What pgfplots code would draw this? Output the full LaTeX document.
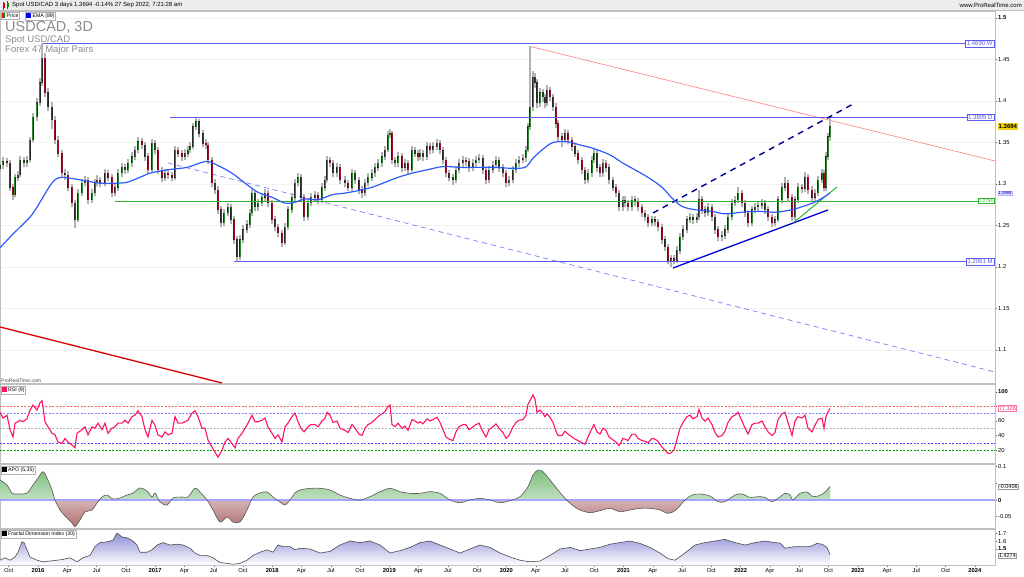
\documentclass[border=0pt]{standalone}
\usepackage{pgfplots}
\pgfplotsset{compat=1.18}
\usepackage{pgfplotstable}
\usepackage{fontspec}
\setmainfont{Liberation Sans}

\definecolor{upg}{HTML}{2F8A2F}
\definecolor{dnr}{HTML}{9A1028}
\definecolor{wick}{HTML}{B2B2B2}
\definecolor{ema}{HTML}{2E5BFF}
\definecolor{lvlc}{rgb}{0.36,0.36,0.95}
\definecolor{lvlgc}{rgb}{0.18,0.70,0.18}
\definecolor{rsic}{HTML}{FF1464}
\definecolor{wm}{HTML}{8C8C8C}
\definecolor{hdr}{HTML}{ECECEC}
\definecolor{apog}{HTML}{7DBE7D}
\definecolor{apor}{HTML}{B07070}
\definecolor{fdit}{HTML}{8E8ED8}
\definecolor{ylw}{HTML}{F2D200}

% ---------- data ----------
\pgfplotstableread{
x o h l c
0 1.318 1.328 1.314 1.323
3 1.323 1.333 1.318 1.327
7 1.327 1.331 1.320 1.325
10 1.325 1.329 1.292 1.296
13 1.296 1.300 1.281 1.287
15 1.287 1.312 1.284 1.308
18 1.308 1.316 1.304 1.311
20 1.311 1.334 1.308 1.329
24 1.329 1.332 1.320 1.325
27 1.325 1.334 1.321 1.329
30 1.329 1.357 1.326 1.353
33 1.353 1.386 1.350 1.381
37 1.381 1.404 1.376 1.398
40 1.398 1.428 1.394 1.422
42 1.422 1.469 1.418 1.452
45 1.452 1.458 1.405 1.410
48 1.410 1.416 1.388 1.393
52 1.393 1.399 1.366 1.377
55 1.377 1.382 1.348 1.353
58 1.353 1.358 1.332 1.337
62 1.337 1.341 1.308 1.313
65 1.313 1.318 1.305 1.311
68 1.311 1.316 1.291 1.296
72 1.296 1.300 1.272 1.277
75 1.277 1.281 1.247 1.257
78 1.257 1.294 1.254 1.289
82 1.289 1.306 1.285 1.301
85 1.301 1.310 1.297 1.305
88 1.305 1.309 1.276 1.281
92 1.281 1.294 1.277 1.289
95 1.289 1.306 1.285 1.301
97 1.301 1.311 1.297 1.305
100 1.305 1.309 1.296 1.301
105 1.301 1.318 1.297 1.313
108 1.313 1.317 1.303 1.308
112 1.308 1.312 1.284 1.289
115 1.289 1.301 1.285 1.296
118 1.296 1.318 1.292 1.313
122 1.313 1.325 1.309 1.320
125 1.320 1.324 1.312 1.317
128 1.317 1.330 1.313 1.325
132 1.325 1.338 1.321 1.333
135 1.333 1.346 1.329 1.341
138 1.341 1.356 1.337 1.351
142 1.351 1.355 1.342 1.347
145 1.347 1.351 1.328 1.333
148 1.333 1.337 1.312 1.317
152 1.317 1.354 1.314 1.349
155 1.349 1.353 1.336 1.341
158 1.341 1.345 1.312 1.317
162 1.317 1.321 1.302 1.308
165 1.308 1.318 1.304 1.313
168 1.313 1.317 1.306 1.311
172 1.311 1.315 1.303 1.308
175 1.308 1.346 1.305 1.341
178 1.341 1.345 1.332 1.337
182 1.337 1.341 1.328 1.333
185 1.333 1.342 1.329 1.337
188 1.337 1.346 1.333 1.341
190 1.341 1.350 1.337 1.345
193 1.345 1.374 1.342 1.369
196 1.369 1.379 1.365 1.375
199 1.375 1.378 1.356 1.361
203 1.361 1.365 1.344 1.349
206 1.349 1.354 1.342 1.347
208 1.347 1.351 1.324 1.329
212 1.329 1.333 1.296 1.301
215 1.301 1.306 1.288 1.293
218 1.293 1.297 1.264 1.269
221 1.269 1.273 1.248 1.253
224 1.253 1.270 1.249 1.265
228 1.265 1.277 1.261 1.272
231 1.272 1.276 1.252 1.257
234 1.257 1.261 1.228 1.233
237 1.233 1.237 1.2061 1.212
240 1.212 1.238 1.208 1.233
243 1.233 1.250 1.229 1.245
247 1.245 1.256 1.241 1.251
250 1.251 1.270 1.247 1.265
252 1.265 1.294 1.262 1.289
255 1.289 1.293 1.267 1.272
258 1.272 1.282 1.268 1.277
262 1.277 1.289 1.273 1.284
265 1.284 1.294 1.280 1.289
268 1.289 1.293 1.272 1.277
272 1.277 1.281 1.252 1.257
275 1.257 1.261 1.243 1.248
278 1.248 1.252 1.236 1.241
282 1.241 1.245 1.224 1.229
285 1.229 1.253 1.226 1.248
288 1.248 1.274 1.245 1.269
292 1.269 1.289 1.265 1.284
295 1.284 1.306 1.280 1.301
298 1.301 1.313 1.297 1.308
301 1.308 1.312 1.279 1.284
304 1.284 1.288 1.255 1.260
308 1.260 1.282 1.256 1.277
311 1.277 1.289 1.273 1.284
315 1.284 1.291 1.279 1.286
318 1.286 1.290 1.276 1.281
322 1.281 1.301 1.277 1.296
325 1.296 1.310 1.292 1.305
327 1.305 1.334 1.302 1.329
330 1.329 1.333 1.320 1.325
333 1.325 1.329 1.308 1.313
337 1.313 1.325 1.309 1.320
340 1.320 1.324 1.300 1.305
345 1.305 1.310 1.296 1.301
348 1.301 1.305 1.291 1.296
352 1.296 1.318 1.292 1.313
355 1.313 1.317 1.300 1.305
359 1.305 1.309 1.288 1.293
362 1.293 1.297 1.283 1.289
365 1.289 1.306 1.285 1.301
368 1.301 1.313 1.297 1.308
372 1.308 1.318 1.304 1.313
375 1.313 1.325 1.309 1.320
378 1.320 1.330 1.316 1.325
382 1.325 1.338 1.321 1.333
385 1.333 1.346 1.329 1.341
388 1.341 1.364 1.338 1.359
390 1.359 1.366 1.355 1.361
392 1.361 1.364 1.324 1.329
395 1.329 1.333 1.320 1.325
398 1.325 1.338 1.321 1.333
402 1.333 1.337 1.315 1.320
405 1.320 1.330 1.316 1.325
408 1.325 1.329 1.312 1.317
412 1.317 1.346 1.314 1.341
415 1.341 1.345 1.332 1.337
418 1.337 1.341 1.328 1.333
420 1.333 1.342 1.329 1.337
423 1.337 1.341 1.328 1.333
427 1.333 1.350 1.329 1.345
430 1.345 1.349 1.336 1.341
433 1.341 1.350 1.337 1.345
437 1.345 1.354 1.341 1.349
440 1.349 1.353 1.336 1.341
443 1.341 1.345 1.324 1.329
446 1.329 1.333 1.308 1.313
449 1.313 1.317 1.303 1.308
453 1.308 1.312 1.299 1.305
456 1.305 1.322 1.301 1.317
459 1.317 1.330 1.313 1.325
463 1.325 1.334 1.321 1.329
466 1.329 1.333 1.322 1.327
469 1.327 1.331 1.315 1.320
473 1.320 1.330 1.316 1.325
476 1.325 1.334 1.321 1.329
479 1.329 1.336 1.325 1.331
483 1.331 1.335 1.312 1.317
486 1.317 1.321 1.300 1.305
489 1.305 1.322 1.301 1.317
493 1.317 1.328 1.313 1.323
496 1.323 1.334 1.319 1.329
499 1.329 1.333 1.315 1.320
503 1.320 1.324 1.308 1.313
506 1.313 1.317 1.296 1.301
509 1.301 1.310 1.297 1.305
513 1.305 1.322 1.301 1.317
516 1.317 1.330 1.313 1.325
519 1.325 1.334 1.321 1.329
523 1.329 1.336 1.325 1.331
526 1.331 1.346 1.327 1.341
528 1.341 1.374 1.338 1.369
530 1.369 1.4667 1.365 1.393
533 1.393 1.436 1.388 1.429
535 1.429 1.434 1.416 1.422
537 1.422 1.426 1.392 1.398
540 1.398 1.416 1.393 1.410
543 1.410 1.414 1.399 1.405
545 1.405 1.409 1.392 1.398
547 1.398 1.419 1.394 1.413
550 1.413 1.417 1.400 1.405
553 1.405 1.409 1.388 1.393
556 1.393 1.397 1.368 1.373
558 1.373 1.377 1.352 1.357
562 1.357 1.362 1.345 1.353
565 1.353 1.366 1.349 1.361
568 1.361 1.365 1.348 1.353
572 1.353 1.357 1.340 1.345
575 1.345 1.349 1.332 1.337
578 1.337 1.341 1.324 1.329
582 1.329 1.333 1.312 1.317
585 1.317 1.321 1.300 1.305
588 1.305 1.318 1.301 1.313
592 1.313 1.334 1.309 1.329
594 1.329 1.342 1.325 1.337
597 1.337 1.341 1.315 1.320
600 1.320 1.324 1.308 1.313
603 1.313 1.330 1.309 1.325
606 1.325 1.329 1.315 1.320
609 1.320 1.324 1.300 1.305
613 1.305 1.309 1.291 1.296
616 1.296 1.300 1.284 1.289
619 1.289 1.293 1.267 1.272
623 1.272 1.286 1.268 1.281
625 1.281 1.285 1.272 1.277
628 1.277 1.281 1.267 1.272
632 1.272 1.286 1.268 1.281
635 1.281 1.285 1.274 1.279
638 1.279 1.283 1.267 1.272
642 1.272 1.276 1.260 1.265
645 1.265 1.269 1.255 1.260
648 1.260 1.264 1.248 1.253
652 1.253 1.262 1.249 1.257
655 1.257 1.261 1.249 1.254
658 1.254 1.258 1.243 1.248
662 1.248 1.252 1.228 1.233
665 1.233 1.237 1.219 1.224
668 1.224 1.228 1.203 1.208
671 1.208 1.215 1.2005 1.210
674 1.210 1.214 1.203 1.208
677 1.208 1.225 1.205 1.220
680 1.220 1.241 1.216 1.236
683 1.236 1.250 1.232 1.245
687 1.245 1.262 1.241 1.257
690 1.257 1.265 1.253 1.260
693 1.260 1.264 1.252 1.257
697 1.257 1.265 1.253 1.260
699 1.260 1.293 1.257 1.281
702 1.281 1.285 1.264 1.269
705 1.269 1.273 1.260 1.265
708 1.265 1.277 1.261 1.272
712 1.272 1.276 1.255 1.260
715 1.260 1.264 1.240 1.245
718 1.245 1.249 1.231 1.236
722 1.236 1.243 1.231 1.238
725 1.238 1.250 1.234 1.245
728 1.245 1.265 1.241 1.260
732 1.260 1.282 1.256 1.277
735 1.277 1.286 1.273 1.281
738 1.281 1.296 1.277 1.289
742 1.289 1.293 1.272 1.277
745 1.277 1.281 1.260 1.265
748 1.265 1.269 1.248 1.253
752 1.253 1.274 1.249 1.269
755 1.269 1.277 1.265 1.272
758 1.272 1.279 1.268 1.274
762 1.274 1.282 1.270 1.277
765 1.277 1.281 1.264 1.269
768 1.269 1.273 1.255 1.260
772 1.260 1.264 1.248 1.253
775 1.253 1.262 1.249 1.257
778 1.257 1.286 1.254 1.281
782 1.281 1.301 1.277 1.296
785 1.296 1.308 1.292 1.301
788 1.301 1.305 1.279 1.284
792 1.284 1.288 1.255 1.260
795 1.260 1.286 1.256 1.281
798 1.281 1.301 1.277 1.296
802 1.296 1.300 1.289 1.294
805 1.294 1.315 1.290 1.308
808 1.308 1.312 1.288 1.293
812 1.293 1.297 1.279 1.284
815 1.284 1.294 1.280 1.289
818 1.289 1.310 1.285 1.305
822 1.305 1.318 1.301 1.313
824 1.313 1.317 1.291 1.296
826 1.296 1.338 1.292 1.333
828 1.333 1.362 1.329 1.357
830 1.357 1.3805 1.352 1.369
}\candles

\pgfplotstableread{
x y
0 1.223
10 1.236
20 1.248
30 1.260
37 1.272
43 1.284
50 1.298
56 1.306
63 1.308
80 1.305
100 1.301
117 1.301
127 1.302
140 1.308
150 1.313
167 1.317
187 1.320
205 1.327
215 1.324
232 1.313
245 1.301
258 1.290
272 1.284
285 1.277
295 1.278
305 1.282
318 1.281
332 1.287
345 1.289
358 1.292
372 1.296
385 1.302
398 1.308
412 1.313
427 1.317
443 1.321
460 1.320
477 1.320
493 1.320
510 1.319
525 1.320
533 1.331
543 1.342
553 1.350
567 1.351
580 1.347
593 1.343
610 1.335
623 1.325
632 1.319
648 1.308
662 1.296
672 1.283
682 1.273
695 1.269
712 1.267
725 1.264
742 1.266
758 1.267
775 1.266
792 1.269
808 1.275
818 1.280
830 1.289
}\ema

\pgfplotstableread{
x y
0 72
3 64
7 68
10 48
13 38
15 57
18 59
20 61
23 59
27 63
30 75
33 82
37 75
40 85
42 88
43 79
45 59
48 52
52 43
55 41
58 31
62 29
65 36
68 31
72 27
75 23
77 43
82 48
85 52
88 41
92 52
95 50
98 57
102 48
105 57
108 43
112 50
115 52
118 57
122 57
125 61
128 57
132 66
135 68
138 74
142 66
145 48
148 38
152 61
155 54
158 41
162 38
165 45
168 41
172 43
175 66
178 57
182 57
185 59
188 61
192 71
195 74
198 66
202 50
205 50
208 34
212 24
215 17
218 10
222 20
225 31
228 36
232 29
235 23
238 36
242 43
245 50
248 57
252 68
255 59
258 59
262 61
265 64
268 52
272 43
275 36
278 41
282 31
285 52
288 57
292 66
295 71
298 59
301 50
304 45
308 52
311 55
315 55
318 52
322 60
325 64
327 72
330 68
333 58
337 60
340 50
345 47
348 44
352 55
355 50
359 42
362 40
365 50
368 55
372 58
375 62
378 66
382 70
385 73
388 80
390 82
392 55
395 52
398 57
402 50
405 53
408 47
412 62
415 60
418 57
420 59
423 56
427 63
430 60
433 62
437 65
440 58
443 48
446 38
449 35
453 33
456 45
459 52
463 55
466 55
469 48
473 52
476 55
479 57
483 45
486 38
489 48
493 52
496 56
499 50
503 44
506 36
509 40
513 52
516 58
519 61
523 62
526 68
528 83
530 88
533 96
535 90
537 72
540 75
543 70
545 66
547 70
550 65
553 58
556 46
558 40
562 40
565 46
568 42
572 38
575 35
578 33
582 30
585 28
588 38
592 50
594 55
597 45
600 42
603 50
606 47
609 38
613 34
616 31
619 26
623 36
625 35
628 33
632 42
635 42
638 36
642 33
645 32
648 30
652 36
655 35
658 32
662 24
665 20
668 15
671 16
674 20
677 35
680 50
683 58
687 66
690 68
693 63
697 66
699 76
702 64
705 60
708 64
712 55
715 44
718 38
722 40
725 46
728 58
732 66
735 68
738 72
742 60
745 50
748 42
752 55
755 57
758 57
762 60
765 52
768 45
772 40
775 44
778 62
782 70
785 72
788 58
792 40
795 60
798 66
802 64
805 68
808 50
812 45
815 54
818 62
822 64
824 50
826 66
828 72
830 77.3
}\rsi

\pgfplotstableread{
x y
0 0.060
7 0.045
12 0.021
17 0.018
27 0.021
33 0.045
38 0.066
43 0.085
47 0.066
52 0.030
55 0.000
60 -0.030
67 -0.054
72 -0.069
75 -0.080
80 -0.060
85 -0.036
92 -0.030
97 -0.009
102 0.009
107 0.015
113 0.003
120 0.006
127 0.015
133 0.021
140 0.036
147 0.027
152 0.009
155 0.021
160 -0.006
167 -0.015
173 0.006
182 0.009
188 0.009
195 0.036
200 0.024
207 0.000
213 -0.030
220 -0.066
227 -0.051
233 -0.066
240 -0.066
247 -0.030
253 0.009
260 0.021
267 0.024
273 0.009
280 -0.006
285 -0.015
290 0.000
295 0.021
300 0.030
310 0.035
320 0.035
330 0.030
340 0.015
350 0.005
360 0.000
370 0.010
380 0.025
390 0.035
400 0.025
410 0.020
420 0.020
430 0.025
440 0.020
450 0.000
460 -0.008
470 0.000
480 0.005
490 0.000
500 -0.008
510 -0.002
520 0.010
528 0.040
533 0.075
538 0.090
543 0.085
550 0.060
558 0.030
565 0.005
572 -0.015
580 -0.030
590 -0.038
600 -0.032
610 -0.025
620 -0.035
630 -0.030
640 -0.025
650 -0.025
660 -0.030
668 -0.040
676 -0.030
685 0.000
692 0.015
700 0.018
710 0.012
718 -0.005
725 -0.005
735 0.015
742 0.018
750 0.008
758 0.010
765 0.008
772 -0.005
778 0.005
785 0.020
790 0.015
793 0.000
800 0.020
807 0.024
813 0.010
820 0.014
825 0.024
830 0.0406
}\apo

\pgfplotstableread{
x y
0 1.36
5 1.39
10 1.36
15 1.40
18 1.46
22 1.59
24 1.58
27 1.49
30 1.40
37 1.36
43 1.34
50 1.35
57 1.36
63 1.37
70 1.39
77 1.34
83 1.39
90 1.42
95 1.53
100 1.58
107 1.59
113 1.61
117 1.70
122 1.65
127 1.64
132 1.61
137 1.55
140 1.46
147 1.46
152 1.49
157 1.55
163 1.58
170 1.55
177 1.56
183 1.55
190 1.51
195 1.45
200 1.42
207 1.42
213 1.39
220 1.33
227 1.32
233 1.31
240 1.32
247 1.36
253 1.42
260 1.46
267 1.49
273 1.46
278 1.55
283 1.53
290 1.53
295 1.49
300 1.51
310 1.50
320 1.45
330 1.47
340 1.55
350 1.60
360 1.58
370 1.60
380 1.55
390 1.45
400 1.48
410 1.52
420 1.58
430 1.60
440 1.55
450 1.50
460 1.45
470 1.50
480 1.55
490 1.52
500 1.45
510 1.40
520 1.36
530 1.34
540 1.35
550 1.42
560 1.50
570 1.52
580 1.48
590 1.50
600 1.52
610 1.56
620 1.58
630 1.60
640 1.57
650 1.52
660 1.45
668 1.38
675 1.36
685 1.45
695 1.55
705 1.58
715 1.60
725 1.62
735 1.58
745 1.55
755 1.58
765 1.60
775 1.58
780 1.575
785 1.51
795 1.53
810 1.53
817 1.57
822 1.56
827 1.52
830 1.43
}\fdi

\tikzset{lvlbox/.style={font=\fontsize{6}{7}\selectfont, fill=white, inner sep=1.2pt, line width=0.5pt}}
\pgfplotsset{
  panel/.style={scale only axis, width=995pt, xmin=0, xmax=995,
    axis line style={draw=black!25, line width=0.8pt},
    ytick pos=right, yticklabel pos=right, tick align=outside,
    major tick length=2pt, tick style={black!60, line width=0.4pt},
    xtick=\empty,
    yticklabel style={font=\fontsize{5.8}{6}\selectfont, inner sep=1pt},
    clip=true, axis background/.style={fill=white}},
  nomk/.style={only marks, mark=*, mark size=0.01pt, mark options={draw=none, fill=none}}
}

\begin{document}
\begin{tikzpicture}[x=1pt,y=1pt]
\useasboundingbox (0pt,0pt) rectangle (1024pt,-576pt);
\fill[white] (0pt,0pt) rectangle (1024pt,-576pt);

% ================= PRICE =================
\begin{axis}[panel, at={(0pt,-11pt)}, anchor=north west, height=372pt,
  ymin=1.0602, ymax=1.5084,
  ytick={1.1,1.15,1.2,1.25,1.3,1.35,1.4,1.45,1.5},
  yticklabels={1.1,1.15,1.2,1.25,1.3,1.35,1.4,1.45,\textbf{1.5}},
  ymajorgrids, grid style={black!5}]
\addplot[draw=red!85!black, line width=1.3pt] coordinates {(0,1.1277) (222,1.0602)};
\addplot[draw=red!45, line width=0.7pt] coordinates {(531,1.4655) (995,1.3277)};
\addplot[draw=lvlc!80, line width=0.7pt, dash pattern=on 5pt off 4pt] coordinates {(168,1.3253) (995,1.0735)};
% wicks
\addplot[color=wick, nomk, error bars/.cd, y dir=plus, y explicit, error mark=none,
  error bar style={color=wick, line width=1.3pt}]
  table[x=x, y=l, y error expr={\thisrow{h}-\thisrow{l}}] {\candles};
% body outlines
\addplot[color=black!85, nomk, error bars/.cd, y dir=both, y explicit, error mark=none,
  error bar style={color=black!85, line width=1.7pt}]
  table[x=x, y expr={(\thisrow{o}+\thisrow{c})/2}, y error expr={abs(\thisrow{c}-\thisrow{o})/2+0.0003}] {\candles};
% up bodies
\addplot[color=upg, nomk, restrict expr to domain={\thisrow{c}-\thisrow{o}}{0:1},
  error bars/.cd, y dir=both, y explicit, error mark=none, error bar style={color=upg, line width=1.0pt}]
  table[x=x, y expr={(\thisrow{o}+\thisrow{c})/2}, y error expr={abs(\thisrow{c}-\thisrow{o})/2}] {\candles};
% down bodies
\addplot[color=dnr, nomk, restrict expr to domain={\thisrow{o}-\thisrow{c}}{0.00001:1},
  error bars/.cd, y dir=both, y explicit, error mark=none, error bar style={color=dnr, line width=1.0pt}]
  table[x=x, y expr={(\thisrow{o}+\thisrow{c})/2}, y error expr={abs(\thisrow{c}-\thisrow{o})/2}] {\candles};
% level lines (horizontal support/resistance)
\draw[color=lvlc, line width=0.9pt] (axis cs:42,1.469) -- (axis cs:995,1.469);
\draw[color=lvlc, line width=0.9pt] (axis cs:170,1.3805) -- (axis cs:995,1.3805);
\draw[color=lvlgc, line width=0.9pt] (axis cs:115,1.2794) -- (axis cs:995,1.2794);
\draw[color=lvlc, line width=0.9pt] (axis cs:234,1.2061) -- (axis cs:995,1.2061);
% trend lines
\addplot[draw=blue!55!black, line width=1.4pt, dash pattern=on 6pt off 5pt] coordinates {(653,1.2651) (855,1.3976)};
\addplot[draw=blue!85!black, line width=1.3pt] coordinates {(673,1.1988) (828,1.2687)};
\addplot[draw=green!70!black, line width=0.8pt] coordinates {(793,1.2530) (837,1.2964)};
\addplot[draw=ema, line width=1.2pt, smooth] table {\ema};
\node[lvlbox, draw=lvlc, text=lvlc, anchor=east] at (axis cs:994,1.469) {1.4690 W};
\node[lvlbox, draw=lvlc, text=lvlc, anchor=east] at (axis cs:994,1.3805) {1.3805 D};
\node[lvlbox, draw=lvlgc, text=lvlgc, anchor=east, font=\fontsize{4.6}{5}\selectfont, inner sep=0.8pt] at (axis cs:994,1.2794) {1.2794};
\node[lvlbox, draw=lvlc, text=lvlc, anchor=east] at (axis cs:994,1.2061) {1.2061 M};
\end{axis}

% ================= RSI =================
\begin{axis}[panel, at={(0pt,-384pt)}, anchor=north west, height=79pt,
  ymin=2.07, ymax=111,
  ytick={20,40,60,80,100}, yticklabels={20,40,60,{},\textbf{100}}]
\addplot[draw=red!60, line width=0.5pt, dash pattern=on 2pt off 1.5pt] coordinates {(0,80) (995,80)};
\addplot[draw=blue!50, line width=0.5pt, dash pattern=on 2pt off 1.5pt] coordinates {(0,70) (995,70)};
\addplot[draw=black!30, line width=0.5pt, dash pattern=on 2pt off 1.5pt] coordinates {(0,50) (995,50)};
\addplot[draw=blue!70, line width=0.5pt, dash pattern=on 2pt off 1.5pt] coordinates {(0,30) (995,30)};
\addplot[draw=green!60!black, line width=0.5pt, dash pattern=on 2pt off 1.5pt] coordinates {(0,20) (995,20)};
\addplot[draw=rsic, line width=1.1pt] table {\rsi};
\end{axis}

% ================= APO =================
\begin{axis}[panel, at={(0pt,-464pt)}, anchor=north west, height=64pt,
  ymin=-0.084, ymax=0.108,
  ytick={-0.05,0,0.05,0.1}, yticklabels={-0.05,\textbf{0},{},0.1}]
\begin{scope}
\clip (axis cs:0,0) rectangle (axis cs:995,0.2);
\addplot[draw=none, top color=apog, bottom color=white, smooth] table {\apo} \closedcycle;
\end{scope}
\begin{scope}
\clip (axis cs:0,-0.2) rectangle (axis cs:995,0);
\addplot[draw=none, top color=white, bottom color=apor, smooth] table {\apo} \closedcycle;
\end{scope}
\addplot[draw=blue!35, line width=2pt] coordinates {(0,0) (995,0)};
\addplot[draw=black!65, line width=0.6pt, smooth] table {\apo};
\end{axis}

% ================= FDI =================
\begin{axis}[panel, at={(0pt,-529pt)}, anchor=north west, height=36pt,
  ymin=1.30, ymax=1.75,
  ytick={1.5,1.6,1.7}, yticklabels={\textbf{1.5},1.6,1.7},
  xtick={8.7,38,67.3,96.6,125.8,155.1,184.4,213.7,242.9,272.2,301.5,330.8,360,389.3,418.6,447.9,477.1,506.4,535.7,565,594.2,623.5,652.8,682.1,711.3,740.6,769.9,799.2,828.4,857.7,887,916.3,945.5,974.8},
  xticklabels={Oct,\textbf{2016},Apr,Jul,Oct,\textbf{2017},Apr,Jul,Oct,\textbf{2018},Apr,Jul,Oct,\textbf{2019},Apr,Jul,Oct,\textbf{2020},Apr,Jul,Oct,\textbf{2021},Apr,Jul,Oct,\textbf{2022},Apr,Jul,Oct,\textbf{2023},Apr,Jul,Oct,\textbf{2024}},
  xtick pos=bottom, xticklabel style={font=\fontsize{5.8}{6}\selectfont, inner sep=1pt}]
\addplot[draw=none, top color=fdit, bottom color=white] table {\fdi} \closedcycle;
\addplot[draw=black!70, line width=0.6pt] table {\fdi};
\end{axis}

% ================= overlays =================
\fill[hdr] (0pt,0pt) rectangle (1024pt,-10.5pt);
\draw[black!25, line width=0.4pt] (0pt,-10.5pt) -- (1024pt,-10.5pt);
\fill[red!80!black] (2.5pt,-3pt) rectangle (4.5pt,-8pt);
\draw[black!70, line width=0.3pt] (3.5pt,-1.5pt) -- (3.5pt,-9.5pt);
\fill[green!60!black] (6.5pt,-2.5pt) rectangle (8.5pt,-7pt);
\draw[black!70, line width=0.3pt] (7.5pt,-1pt) -- (7.5pt,-9pt);
\node[anchor=west, inner sep=0, font=\fontsize{6}{7}\selectfont] at (12pt,-5.3pt) {Spot USD/CAD 3 days 1.3694 -0.14\% 27 Sep 2022, 7:21:28 am};
\node[anchor=east, inner sep=0, font=\fontsize{6}{7}\selectfont] at (1022pt,-5.3pt) {www.ProRealTime.com};

\node[anchor=north west, inner sep=0, text=wm, font=\fontsize{14.5}{15}\selectfont] at (5pt,-21pt) {USDCAD, 3D};
\node[anchor=north west, inner sep=0, text=wm, font=\fontsize{9.5}{10}\selectfont] at (5pt,-35.5pt) {Spot USD/CAD};
\node[anchor=north west, inner sep=0, text=wm, font=\fontsize{9.5}{10}\selectfont] at (5pt,-45.5pt) {Forex 47 Major Pairs};

\node[anchor=north west, draw=black!30, fill=white, inner sep=1pt, font=\fontsize{5.2}{6}\selectfont] at (0.5pt,-11.5pt)
  {\textcolor{red}{\rule{1.8pt}{5pt}}\textcolor{green!60!black}{\rule{1.8pt}{5pt}} Price};
\node[anchor=north west, draw=black!30, fill=white, inner sep=1pt, font=\fontsize{5.2}{6}\selectfont] at (25pt,-11.5pt)
  {\textcolor{blue}{\rule{5pt}{5pt}} EMA (89)};
\node[anchor=south west, inner sep=0.5pt, text=black!70, font=\fontsize{5}{6}\selectfont] at (0.5pt,-383pt) {ProRealTime.com};

\node[fill=ylw, inner sep=1pt, font=\bfseries\fontsize{6}{7}\selectfont, anchor=west] at (997.5pt,-126.4pt) {1.3694};
\node[fill=blue!12, draw=blue!30, text=blue!70!black, inner sep=0.6pt, font=\fontsize{4.3}{5}\selectfont, anchor=west] at (997.5pt,-193.3pt) {1.2888};
\node[draw=rsic!60, fill=white, text=rsic, inner sep=0.8pt, font=\fontsize{5.5}{6}\selectfont, anchor=west] at (998pt,-408.4pt) {77.326};
\node[draw=black!40, fill=white, inner sep=0.8pt, font=\fontsize{5.5}{6}\selectfont, anchor=west] at (998pt,-486.5pt) {-0.0406};
\node[draw=black!40, fill=white, inner sep=0.8pt, font=\fontsize{5.5}{6}\selectfont, anchor=west] at (998pt,-555.5pt) {1.4274};

\node[anchor=north west, draw=black!30, fill=white, inner sep=1pt, font=\fontsize{5.2}{6}\selectfont] at (0.5pt,-385.5pt)
  {\textcolor{rsic}{\rule{5pt}{5pt}} RSI (9)};
\node[anchor=north west, draw=black!30, fill=white, inner sep=1pt, font=\fontsize{5.2}{6}\selectfont] at (0.5pt,-465.5pt)
  {\rule{5pt}{5pt} APO (5,35)};
\node[anchor=north west, draw=black!30, fill=white, inner sep=1pt, font=\fontsize{5.2}{6}\selectfont] at (0.5pt,-529.5pt)
  {\rule{5pt}{5pt} Fractal Dimension Index (30)};
\end{tikzpicture}
\end{document}
